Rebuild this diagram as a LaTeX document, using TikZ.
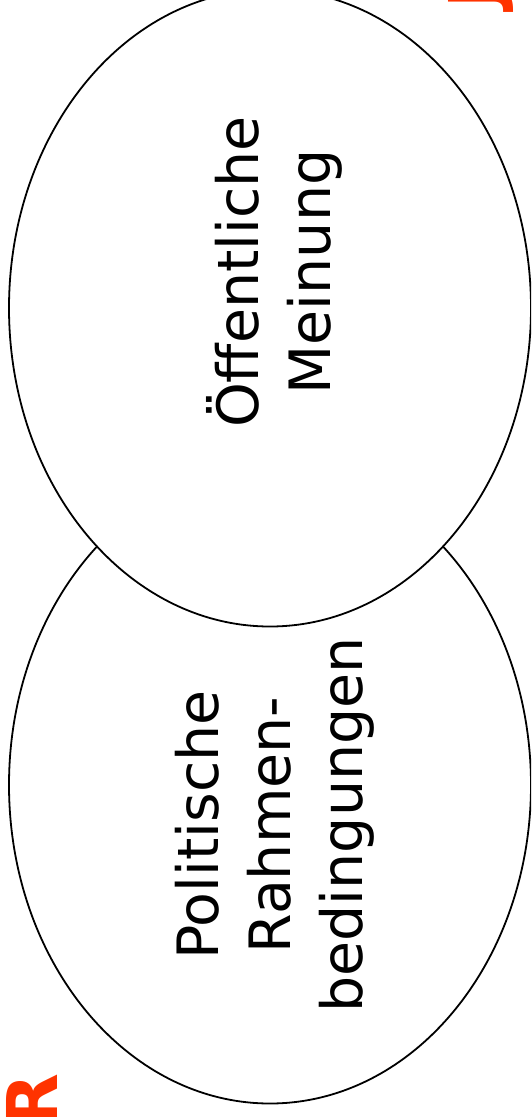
\documentclass[tikz,border=0pt]{standalone}
\usepackage{fontspec}
\newfontfamily\dejavu{DejaVu Sans}
\usepackage{tikz}
\usetikzlibrary{shapes.geometric,positioning}
\definecolor{markred}{HTML}{FF3300}
\newcommand\fieldfont{\dejavu\fontsize{57}{72}\selectfont}
\newcommand\cornerfont{\dejavu\bfseries\fontsize{70}{84}\selectfont}
\tikzset{
  field/.style={draw,ellipse,line width=1.8pt,fill=white,inner sep=0pt,minimum width=522pt,minimum height=637pt},
  fieldlabel/.style={rotate=90,align=center,inner sep=0pt,font=\fieldfont},
  cornerletter/.style={rotate=90,inner sep=0pt,text=markred,font=\cornerfont}
}
\begin{document}
\begin{tikzpicture}[x=1pt,y=-1pt]
  \useasboundingbox (0,0) rectangle (531,1117);
  \clip (0,0) rectangle (531,1117);
  % the two fields
  \node[field] (politics) at (270,785) {};
  \node[field] (opinion) at (270,308) {};
  \node[fieldlabel] (opinionlabel) at (274,272) {Öffentliche\\Meinung};
  \node[fieldlabel] (politicslabel) at (275,825) {Politische\\Rahmen-\\bedingungen};
  % cut-off corner letters
  \node[cornerletter] (topletter) at (481,-5) {J};
  \node[cornerletter] (bottomletter) at (32,1101) {R};
\end{tikzpicture}
\end{document}
